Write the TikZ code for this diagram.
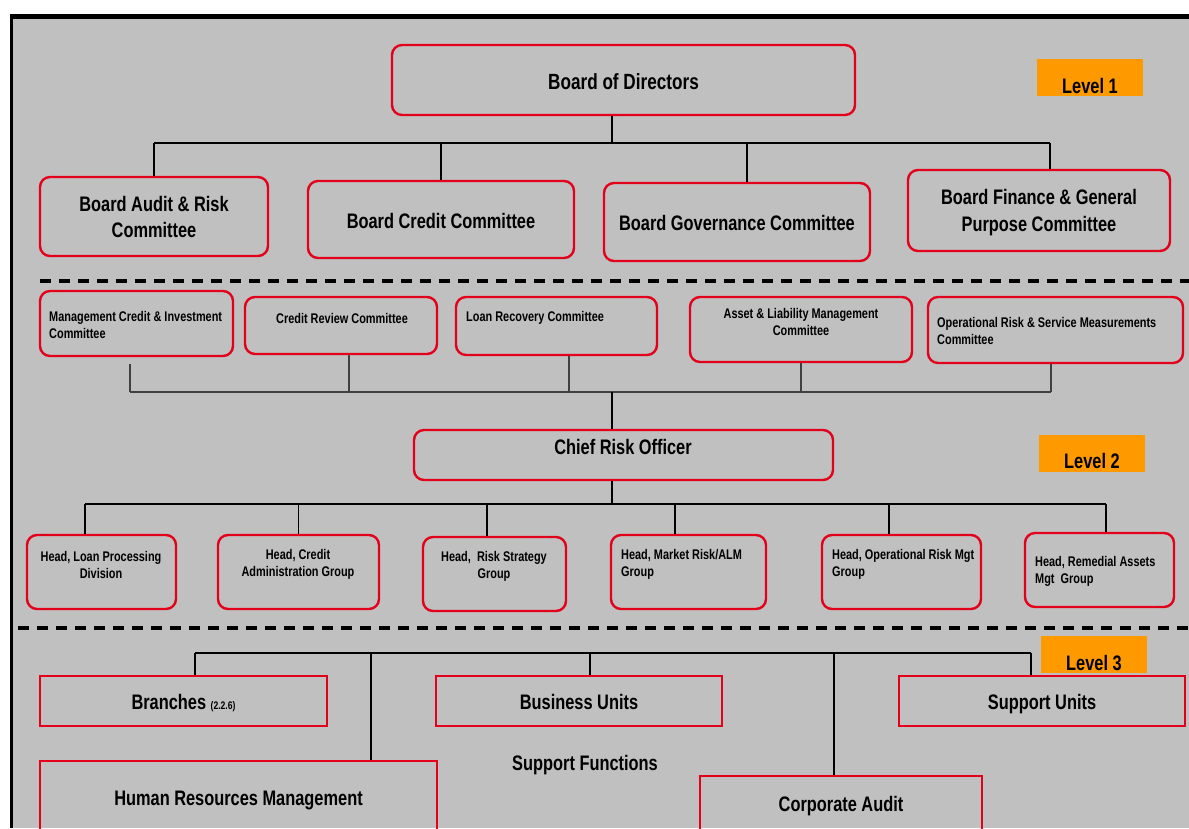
\documentclass[tikz,border=0pt]{standalone}
\usepackage{fontspec}
\newfontfamily\narrowsans{Liberation Sans}[FakeStretch=0.78]
\usetikzlibrary{calc}

\definecolor{panelgray}{RGB}{192,192,192}
\definecolor{boxred}{RGB}{226,0,26}
\definecolor{lvlorange}{RGB}{255,153,0}

\tikzset{
  rbox/.style={draw=boxred, line width=2.4pt, rounded corners=10pt, inner sep=0pt},
  sbox/.style={draw=boxred, line width=2.4pt, inner sep=0pt},
  lvlbox/.style={fill=lvlorange, inner sep=0pt, minimum width=106, minimum height=37},
  bigtxt/.style={font=\narrowsans\bfseries\fontsize{21}{26}\selectfont, align=center, inner sep=0pt},
  oneline/.style={text height=17pt, text depth=0pt},
  smalltxt/.style={font=\narrowsans\bfseries\fontsize{14}{17}\selectfont, inner sep=0pt},
  link/.style={line width=1.2pt},
  sep/.style={line width=4pt, dash pattern=on 11pt off 8pt},
}

\begin{document}
\begin{tikzpicture}[x=1pt, y=-1pt]
  % frame and panel
  \useasboundingbox (0,0) rectangle (1189,828);
  \fill[white] (0,0) rectangle (1189,828);
  \fill[black] (9.5,14) rectangle (1189,828);
  \fill[panelgray] (13,19) rectangle (1189,828);

  % level 1
  \node[rbox, bigtxt, oneline, text height=19pt, minimum width=463, minimum height=70, font=\narrowsans\bfseries\fontsize{22}{26}\selectfont] (bod) at (623.5,80) {Board of Directors};
  \node[lvlbox] (lv1) at (1090,77) {};
  \node[bigtxt] (lv1-t) at (1090,86) {Level 1};

  \node[rbox, bigtxt, minimum width=228, minimum height=79] (bac) at (154,216.5) {Board Audit \& Risk\\Committee};
  \node[rbox, bigtxt, oneline, minimum width=266, minimum height=77] (bcc) at (441,219.5) {Board Credit Committee};
  \node[rbox, bigtxt, oneline, minimum width=266, minimum height=78] (bgc) at (737,222) {Board Governance Committee};
  \node[rbox, minimum width=262, minimum height=81] (bfc) at (1039,210.5) {};
  \node[bigtxt, font=\narrowsans\bfseries\fontsize{21}{27}\selectfont] (bfc-t) at (1039,213) {Board Finance \& General\\Purpose Committee};

  \coordinate (top1) at (612,143);
  \draw[link] (bod.south -| top1) -- (top1);
  \draw[link] (bac.north |- top1) -- ([xshift=11]bfc.north |- top1);
  \draw[link] (bac.north |- top1) -- (bac.north);
  \draw[link] (bcc.north |- top1) -- (bcc.north);
  \draw[link] ([xshift=10]bgc.north |- top1) -- ([xshift=10]bgc.north);
  \draw[link] ([xshift=11]bfc.north |- top1) -- ([xshift=11]bfc.north);

  \draw[sep] (40,281) -- (1189,281);

  % level 2 committees
  \node[rbox, minimum width=193, minimum height=65] (mci) at (136.5,323.5) {};
  \node[smalltxt, anchor=west, align=left] (mci-t) at (49,324.5) {Management Credit \& Investment\\Committee};
  \node[rbox, minimum width=192, minimum height=57] (crc) at (341,325.5) {};
  \node[smalltxt] (crc-t) at (342,318) {Credit Review Committee};
  \node[rbox, minimum width=201, minimum height=58] (lrc) at (556.5,326) {};
  \node[smalltxt, anchor=west] (lrc-t) at (466,318) {Loan Recovery Committee};
  \node[rbox, minimum width=222, minimum height=65] (alm) at (801,329.5) {};
  \node[smalltxt, align=center] (alm-t) at (801,321.5) {Asset \& Liability Management\\Committee};
  \node[rbox, minimum width=255, minimum height=66] (ors) at (1055.5,330) {};
  \node[smalltxt, anchor=west, align=left] (ors-t) at (937,330.5) {Operational Risk \& Service Measurements\\Committee};

  \coordinate (top2) at (612,392);
  \draw[link, line width=1.8pt, draw=black!75] ([xshift=-6.5]mci.south |- top2) -- ([xshift=-4.5]ors.south |- top2);
  \draw[link, line width=1.8pt, draw=black!75] ([xshift=-6.5,yshift=-7]mci.south) -- ([xshift=-6.5]mci.south |- top2);
  \draw[link, line width=1.8pt, draw=black!75] ([xshift=8]crc.south) -- ([xshift=8]crc.south |- top2);
  \draw[link, line width=1.8pt, draw=black!75] ([xshift=12.5]lrc.south) -- ([xshift=12.5]lrc.south |- top2);
  \draw[link, line width=1.8pt, draw=black!75] (alm.south) -- (alm.south |- top2);
  \draw[link, line width=1.8pt, draw=black!75] ([xshift=-4.5]ors.south) -- ([xshift=-4.5]ors.south |- top2);

  % chief risk officer
  \node[rbox, minimum width=419, minimum height=50] (cro) at (623.5,455) {};
  \node[bigtxt] (cro-t) at (623,447) {Chief Risk Officer};
  \draw[link] (top2) -- (cro.north -| top2);
  \node[lvlbox] (lv2) at (1091.5,453) {};
  \node[bigtxt] (lv2-t) at (1092,461) {Level 2};

  % heads
  \node[rbox, minimum width=149, minimum height=74] (hlp) at (101.5,572) {};
  \node[smalltxt, align=center] (hlp-t) at (101,564.5) {Head, Loan Processing\\Division};
  \node[rbox, minimum width=161, minimum height=74] (hca) at (298.5,572) {};
  \node[smalltxt, align=center] (hca-t) at (298,564.5) {Head, Credit\\Administration Group};
  \node[rbox, minimum width=143, minimum height=74] (hrs) at (494.5,574) {};
  \node[smalltxt, align=center] (hrs-t) at (494,566.5) {Head,\ \ Risk Strategy\\Group};
  \node[rbox, minimum width=155, minimum height=74] (hmr) at (688.5,572) {};
  \node[smalltxt, anchor=west, align=left] (hmr-t) at (621,564) {Head, Market Risk/ALM\\Group};
  \node[rbox, minimum width=159, minimum height=74] (hor) at (901.5,572) {};
  \node[smalltxt, anchor=west, align=left] (hor-t) at (832,564.5) {Head, Operational Risk Mgt\\Group};
  \node[rbox, minimum width=149, minimum height=74] (hra) at (1099.5,570) {};
  \node[smalltxt, anchor=west, align=left] (hra-t) at (1035,571) {Head, Remedial Assets\\Mgt\ \ Group};

  \coordinate (top3) at (612,504);
  \draw[link] (cro.south -| top3) -- (top3);
  \draw[link] ([xshift=-16.5]hlp.north |- top3) -- ([xshift=6.5]hra.north |- top3);
  \draw[link] ([xshift=-16.5]hlp.north |- top3) -- ([xshift=-16.5]hlp.north);
  \draw[link] (hca.north |- top3) -- (hca.north);
  \draw[link] ([xshift=-7.5]hrs.north |- top3) -- ([xshift=-7.5]hrs.north);
  \draw[link] ([xshift=-13.5]hmr.north |- top3) -- ([xshift=-13.5]hmr.north);
  \draw[link] ([xshift=-12.5]hor.north |- top3) -- ([xshift=-12.5]hor.north);
  \draw[link] ([xshift=6.5]hra.north |- top3) -- ([xshift=6.5]hra.north);

  \draw[sep] (18,628) -- (1189,628);

  % level 3
  \node[lvlbox] (lv3) at (1094,654) {};
  \node[bigtxt] (lv3-t) at (1094,662.5) {Level 3};
  \node[sbox, bigtxt, oneline, minimum width=287, minimum height=50] (brn) at (183.5,701) {Branches {\fontsize{11}{13}\selectfont(2.2.6)}};
  \node[sbox, bigtxt, oneline, minimum width=286, minimum height=50] (bun) at (579,701) {Business Units};
  \node[sbox, bigtxt, oneline, minimum width=286, minimum height=50] (sun) at (1042,701) {Support Units};
  \node[sbox, bigtxt, oneline, minimum width=397, minimum height=72] (hrm) at (238.5,797) {Human Resources Management};
  \node[sbox, bigtxt, oneline, minimum width=282, minimum height=54] (cau) at (841,803) {Corporate Audit};
  \node[bigtxt] (sfn) at (585,765) {Support Functions};

  \coordinate (top4) at (0,653);
  \draw[link] ([xshift=11.5]brn.north |- top4) -- ([xshift=-11]sun.north |- top4);
  \draw[link] ([xshift=11.5]brn.north |- top4) -- ([xshift=11.5]brn.north);
  \draw[link] ([xshift=132.5]hrm.north |- top4) -- ([xshift=132.5]hrm.north);
  \draw[link] ([xshift=11]bun.north |- top4) -- ([xshift=11]bun.north);
  \draw[link] ([xshift=-7]cau.north |- top4) -- ([xshift=-7]cau.north);
  \draw[link] ([xshift=-11]sun.north |- top4) -- ([xshift=-11]sun.north);
\end{tikzpicture}
\end{document}
